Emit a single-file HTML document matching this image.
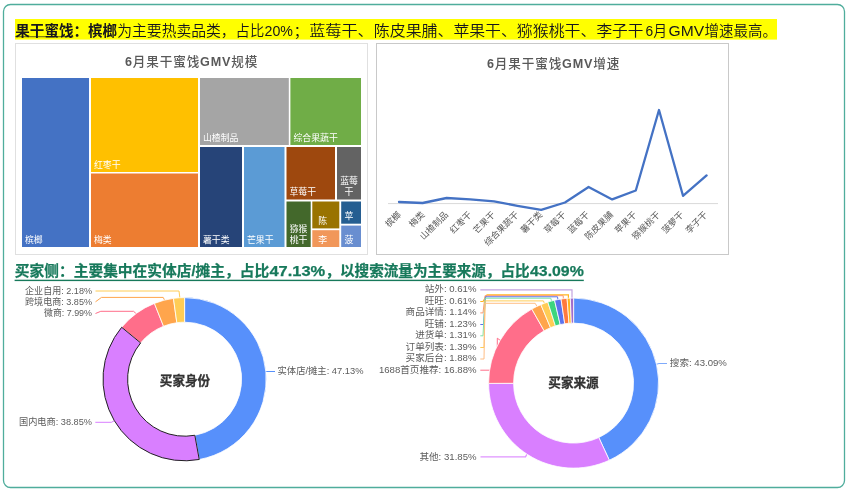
<!DOCTYPE html>
<html lang="zh-CN">
<head>
<meta charset="utf-8">
<title>果干蜜饯</title>
<style>
html,body{margin:0;padding:0;background:#fff;}
body{width:850px;height:494px;overflow:hidden;font-family:"Liberation Sans", "Noto Sans CJK SC", sans-serif;}
svg{display:block;}
text{font-family:"Liberation Sans", "Noto Sans CJK SC", sans-serif;}
</style>
</head>
<body>
<svg width="850" height="494" viewBox="0 0 850 494">

<rect x="3.5" y="4.5" width="841" height="483" rx="7" ry="7" fill="#fff" stroke="#4fad9c" stroke-width="1.3"/>
<rect x="15" y="19" width="762" height="20.6" fill="#ffff00"/>
<text y="36.1" font-size="14.7" fill="#16161e"><tspan x="15.3" textLength="101.8" lengthAdjust="spacingAndGlyphs" font-weight="700">果干蜜饯：槟榔</tspan><tspan x="117.3" textLength="118.3" lengthAdjust="spacingAndGlyphs" font-weight="350">为主要热卖品类，</tspan><tspan x="235.6" textLength="28.6" lengthAdjust="spacingAndGlyphs" font-weight="350">占比</tspan><tspan x="264.6" textLength="28.4" lengthAdjust="spacingAndGlyphs" font-weight="350">20%</tspan><tspan x="293.5" textLength="15.5" lengthAdjust="spacingAndGlyphs" font-weight="350">；</tspan><tspan x="309.2" textLength="64.6" lengthAdjust="spacingAndGlyphs" font-weight="350">蓝莓干、</tspan><tspan x="373.8" textLength="79.6" lengthAdjust="spacingAndGlyphs" font-weight="350">陈皮果脯、</tspan><tspan x="453.4" textLength="63.4" lengthAdjust="spacingAndGlyphs" font-weight="350">苹果干、</tspan><tspan x="516.8" textLength="79.6" lengthAdjust="spacingAndGlyphs" font-weight="350">猕猴桃干、</tspan><tspan x="596.4" textLength="47.0" lengthAdjust="spacingAndGlyphs" font-weight="350">李子干</tspan><tspan x="645.5" textLength="21.5" lengthAdjust="spacingAndGlyphs" font-weight="350">6月</tspan><tspan x="668.6" textLength="35.6" lengthAdjust="spacingAndGlyphs" font-weight="350">GMV</tspan><tspan x="704.6" textLength="72.4" lengthAdjust="spacingAndGlyphs" font-weight="350">增速最高。</tspan></text>
<rect x="15.3" y="36.3" width="58" height="0.9" fill="#16161e" opacity="0.75"/>
<rect x="15.5" y="43.5" width="352" height="211" fill="#fff" stroke="#e0e0e0" stroke-width="1"/>
<rect x="376.5" y="43.5" width="352" height="211" fill="#fff" stroke="#c9c9c9" stroke-width="1"/>
<text x="125" y="66" font-size="12.6" font-weight="500" fill="#595959" textLength="132.4" lengthAdjust="spacing"><tspan font-weight="700">6</tspan>月果干蜜饯<tspan font-weight="700">GMV</tspan>规模</text>
<text x="487" y="68" font-size="12.6" font-weight="500" fill="#595959" textLength="132.4" lengthAdjust="spacing"><tspan font-weight="700">6</tspan>月果干蜜饯<tspan font-weight="700">GMV</tspan>增速</text>
<rect x="22.0" y="78.0" width="67.0" height="169.0" fill="#4472C4"/>
<rect x="91.0" y="78.0" width="107.0" height="94.0" fill="#FFC000"/>
<rect x="91.0" y="173.5" width="107.0" height="73.5" fill="#ED7D31"/>
<rect x="200.0" y="78.0" width="88.8" height="67.0" fill="#A5A5A5"/>
<rect x="290.4" y="78.0" width="70.6" height="67.0" fill="#70AD47"/>
<rect x="200.0" y="147.0" width="42.0" height="100.0" fill="#264478"/>
<rect x="244.0" y="147.0" width="40.5" height="100.0" fill="#5B9BD5"/>
<rect x="286.5" y="147.0" width="48.5" height="52.5" fill="#9E480E"/>
<rect x="337.0" y="147.0" width="24.0" height="52.5" fill="#636363"/>
<rect x="286.5" y="201.5" width="24.2" height="45.5" fill="#43682B"/>
<rect x="312.3" y="201.5" width="27.0" height="26.9" fill="#997300"/>
<rect x="312.3" y="230.2" width="27.0" height="16.8" fill="#F1975A"/>
<rect x="341.2" y="201.5" width="19.8" height="22.2" fill="#255E91"/>
<rect x="341.2" y="225.6" width="19.8" height="21.4" fill="#698ED0"/>
<text x="25.0" y="242.5" font-size="8.9" fill="#fff">槟榔</text>
<text x="94.0" y="167.5" font-size="8.9" fill="#fff">红枣干</text>
<text x="94.0" y="242.5" font-size="8.9" fill="#fff">梅类</text>
<text x="203.0" y="140.5" font-size="8.9" fill="#fff">山楂制品</text>
<text x="293.4" y="140.5" font-size="8.9" fill="#fff">综合果蔬干</text>
<text x="203.0" y="242.5" font-size="8.9" fill="#fff">薯干类</text>
<text x="247.0" y="242.5" font-size="8.9" fill="#fff">芒果干</text>
<text x="289.5" y="195.0" font-size="8.9" fill="#fff">草莓干</text>
<text x="349.0" y="184.0" font-size="8.9" fill="#fff" text-anchor="middle">蓝莓</text>
<text x="349.0" y="195.0" font-size="8.9" fill="#fff" text-anchor="middle">干</text>
<text x="298.6" y="231.5" font-size="8.9" fill="#fff" text-anchor="middle">猕猴</text>
<text x="298.6" y="242.5" font-size="8.9" fill="#fff" text-anchor="middle">桃干</text>
<text x="322.6" y="223.9" font-size="8.9" fill="#fff" text-anchor="middle">陈</text>
<text x="322.6" y="242.5" font-size="8.9" fill="#fff" text-anchor="middle">李</text>
<text x="348.9" y="219.2" font-size="8.9" fill="#fff" text-anchor="middle">苹</text>
<text x="348.9" y="242.5" font-size="8.9" fill="#fff" text-anchor="middle">菠</text>
<line x1="388" y1="203.6" x2="718" y2="203.6" stroke="#d9d9d9" stroke-width="1"/>
<polyline fill="none" stroke="#4472C4" stroke-width="2.3" stroke-linejoin="round" stroke-linecap="round" points="399.0,202.0 422.6,203.0 446.6,198.0 470.2,199.4 494.0,201.4 517.4,205.8 541.2,209.9 565.0,202.5 588.6,187.0 612.2,199.4 635.8,190.5 659.0,110.0 683.0,195.8 706.6,175.4"/>
<text transform="translate(401.6,215.2) rotate(-45)" font-size="8.9" fill="#595959" text-anchor="end">槟榔</text>
<text transform="translate(425.2,215.2) rotate(-45)" font-size="8.9" fill="#595959" text-anchor="end">梅类</text>
<text transform="translate(448.7,215.2) rotate(-45)" font-size="8.9" fill="#595959" text-anchor="end">山楂制品</text>
<text transform="translate(472.3,215.2) rotate(-45)" font-size="8.9" fill="#595959" text-anchor="end">红枣干</text>
<text transform="translate(495.9,215.2) rotate(-45)" font-size="8.9" fill="#595959" text-anchor="end">芒果干</text>
<text transform="translate(519.4,215.2) rotate(-45)" font-size="8.9" fill="#595959" text-anchor="end">综合果蔬干</text>
<text transform="translate(543.0,215.2) rotate(-45)" font-size="8.9" fill="#595959" text-anchor="end">薯干类</text>
<text transform="translate(566.6,215.2) rotate(-45)" font-size="8.9" fill="#595959" text-anchor="end">草莓干</text>
<text transform="translate(590.1,215.2) rotate(-45)" font-size="8.9" fill="#595959" text-anchor="end">蓝莓干</text>
<text transform="translate(613.7,215.2) rotate(-45)" font-size="8.9" fill="#595959" text-anchor="end">陈皮果脯</text>
<text transform="translate(637.3,215.2) rotate(-45)" font-size="8.9" fill="#595959" text-anchor="end">苹果干</text>
<text transform="translate(660.9,215.2) rotate(-45)" font-size="8.9" fill="#595959" text-anchor="end">猕猴桃干</text>
<text transform="translate(684.4,215.2) rotate(-45)" font-size="8.9" fill="#595959" text-anchor="end">菠萝干</text>
<text transform="translate(708.0,215.2) rotate(-45)" font-size="8.9" fill="#595959" text-anchor="end">李子干</text>
<text y="276.2" font-size="14.6" font-weight="700" fill="#17795b" stroke="#17795b" stroke-width="0.25"><tspan x="14.8" textLength="254.4" lengthAdjust="spacingAndGlyphs">买家侧：主要集中在实体店/摊主，占比</tspan><tspan x="269.4" textLength="55.8" lengthAdjust="spacingAndGlyphs">47.13%</tspan><tspan x="325.4" textLength="204.3" lengthAdjust="spacingAndGlyphs">，以搜索流量为主要来源，占比</tspan><tspan x="530.0" textLength="53.8" lengthAdjust="spacingAndGlyphs">43.09%</tspan></text>
<rect x="14.6" y="279.7" width="569.2" height="1.4" fill="#17795b"/>
<polyline fill="none" stroke="#FFCC55" stroke-width="1" points="95.5,291.0 179.0,291.0 180.0,299.0"/>
<polyline fill="none" stroke="#FFA54C" stroke-width="1" points="95.5,301.8 101.5,297.4 163.2,297.4 165.0,301.0"/>
<polyline fill="none" stroke="#FF6E8A" stroke-width="1" points="95.5,313.5 100.8,311.3 133.6,311.3 137.5,315.0"/>
<polyline fill="none" stroke="#D97FFF" stroke-width="1" points="95.3,422.3 111.4,422.3 114.5,420.6"/>
<polyline fill="none" stroke="#5790FB" stroke-width="1" points="265.0,371.5 275.0,371.5"/>
<path d="M184.60,297.60 A81.60,81.60 0 0 1 199.24,459.48 L194.82,435.28 A57.00,57.00 0 0 0 184.60,322.20 Z" fill="#5790FB" stroke="#fff" stroke-width="0.8" stroke-linejoin="round"/>
<path d="M121.66,327.27 A81.60,81.60 0 0 1 154.42,303.39 L163.52,326.24 A57.00,57.00 0 0 0 140.64,342.92 Z" fill="#FF6E8A" stroke="#fff" stroke-width="0.8" stroke-linejoin="round"/>
<path d="M154.42,303.39 A81.60,81.60 0 0 1 173.46,298.36 L176.82,322.73 A57.00,57.00 0 0 0 163.52,326.24 Z" fill="#FFA54C" stroke="#fff" stroke-width="0.8" stroke-linejoin="round"/>
<path d="M173.46,298.36 A81.60,81.60 0 0 1 184.60,297.60 L184.60,322.20 A57.00,57.00 0 0 0 176.82,322.73 Z" fill="#FFCC55" stroke="#fff" stroke-width="0.8" stroke-linejoin="round"/>
<path d="M199.24,459.48 A81.60,81.60 0 0 1 121.66,327.27 L140.64,342.92 A57.00,57.00 0 0 0 194.82,435.28 Z" fill="#D97FFF" stroke="#222" stroke-width="1" stroke-linejoin="round"/>
<text x="185" y="384.5" font-size="12.6" font-weight="700" fill="#333" stroke="#333" stroke-width="0.3" text-anchor="middle">买家身份</text>
<text x="92.0" y="294.3" font-size="9.6" fill="#5c5c5c" text-anchor="end" textLength="67.0" lengthAdjust="spacingAndGlyphs">企业自用: 2.18%</text>
<text x="92.0" y="305.3" font-size="9.6" fill="#5c5c5c" text-anchor="end" textLength="67.0" lengthAdjust="spacingAndGlyphs">跨境电商: 3.85%</text>
<text x="92.0" y="316.3" font-size="9.6" fill="#5c5c5c" text-anchor="end" textLength="48.0" lengthAdjust="spacingAndGlyphs">微商: 7.99%</text>
<text x="92.0" y="425.0" font-size="9.6" fill="#5c5c5c" text-anchor="end" textLength="73.0" lengthAdjust="spacingAndGlyphs">国内电商: 38.85%</text>
<text x="277.5" y="373.6" font-size="9.6" fill="#5c5c5c" text-anchor="start" textLength="86.0" lengthAdjust="spacingAndGlyphs">实体店/摊主: 47.13%</text>
<polyline fill="none" stroke="#C4A3E0" stroke-width="1.2" points="480.3,289.9 572.0,289.9 572.0,299.0"/>
<polyline fill="none" stroke="#FFB51F" stroke-width="1.2" points="480.3,301.5 483.0,301.5 487.0,294.8 568.4,294.8 568.4,299.0"/>
<polyline fill="none" stroke="#FF9A70" stroke-width="1" points="480.3,312.9 483.0,312.9 485.0,295.7 563.2,295.7 563.4,299.5"/>
<polyline fill="none" stroke="#5B73EE" stroke-width="1" points="480.3,324.5 483.5,324.5 485.5,296.8 557.5,296.8 558.0,300.0"/>
<polyline fill="none" stroke="#7FE3A8" stroke-width="1" points="480.3,335.8 483.0,335.8 485.0,298.2 550.8,298.2 551.5,301.0"/>
<polyline fill="none" stroke="#FFCC55" stroke-width="1" points="480.3,347.5 484.0,347.5 485.0,300.9 543.4,300.9 544.5,303.5"/>
<polyline fill="none" stroke="#FFBE85" stroke-width="1" points="480.3,359.0 484.0,359.0 485.0,303.3 535.2,303.3 537.0,306.5"/>
<polyline fill="none" stroke="#FF6E8A" stroke-width="1" points="480.3,370.2 497.3,370.2 497.3,338.2 500.0,340.2"/>
<polyline fill="none" stroke="#DF94FF" stroke-width="1.3" points="480.5,456.8 525.5,456.8 527.6,453.0"/>
<polyline fill="none" stroke="#7FAAFB" stroke-width="1" points="656.0,364.4 659.0,363.5 667.0,363.5"/>
<path d="M573.60,298.10 A85.00,85.00 0 0 1 609.33,460.22 L598.82,437.54 A60.00,60.00 0 0 0 573.60,323.10 Z" fill="#5790FB" stroke="#fff" stroke-width="0.8" stroke-linejoin="round"/>
<path d="M609.33,460.22 A85.00,85.00 0 0 1 488.60,383.38 L513.60,383.30 A60.00,60.00 0 0 0 598.82,437.54 Z" fill="#D97FFF" stroke="#fff" stroke-width="0.8" stroke-linejoin="round"/>
<path d="M488.60,383.38 A85.00,85.00 0 0 1 531.85,309.06 L544.13,330.83 A60.00,60.00 0 0 0 513.60,383.30 Z" fill="#FF6E8A" stroke="#fff" stroke-width="0.8" stroke-linejoin="round"/>
<path d="M531.85,309.06 A85.00,85.00 0 0 1 540.87,304.65 L550.50,327.73 A60.00,60.00 0 0 0 544.13,330.83 Z" fill="#FFA54C" stroke="#fff" stroke-width="0.8" stroke-linejoin="round"/>
<path d="M540.87,304.65 A85.00,85.00 0 0 1 547.84,302.10 L555.42,325.92 A60.00,60.00 0 0 0 550.50,327.73 Z" fill="#FFCC55" stroke="#fff" stroke-width="0.8" stroke-linejoin="round"/>
<path d="M547.84,302.10 A85.00,85.00 0 0 1 554.59,300.25 L560.18,324.62 A60.00,60.00 0 0 0 555.42,325.92 Z" fill="#3DD57F" stroke="#fff" stroke-width="0.8" stroke-linejoin="round"/>
<path d="M554.59,300.25 A85.00,85.00 0 0 1 561.04,299.03 L564.73,323.76 A60.00,60.00 0 0 0 560.18,324.62 Z" fill="#5B73EE" stroke="#fff" stroke-width="0.8" stroke-linejoin="round"/>
<path d="M561.04,299.03 A85.00,85.00 0 0 1 567.09,298.35 L569.00,323.28 A60.00,60.00 0 0 0 564.73,323.76 Z" fill="#FF7A3D" stroke="#fff" stroke-width="0.8" stroke-linejoin="round"/>
<path d="M567.09,298.35 A85.00,85.00 0 0 1 570.34,298.16 L571.30,323.14 A60.00,60.00 0 0 0 569.00,323.28 Z" fill="#FFB51F" stroke="#fff" stroke-width="0.8" stroke-linejoin="round"/>
<path d="M570.34,298.16 A85.00,85.00 0 0 1 573.60,298.10 L573.60,323.10 A60.00,60.00 0 0 0 571.30,323.14 Z" fill="#A16CCB" stroke="#fff" stroke-width="0.8" stroke-linejoin="round"/>
<text x="573.5" y="387.4" font-size="12.6" font-weight="700" fill="#333" stroke="#333" stroke-width="0.3" text-anchor="middle">买家来源</text>
<text x="476.5" y="292.0" font-size="9.6" fill="#5c5c5c" text-anchor="end">站外: 0.61%</text>
<text x="476.5" y="303.5" font-size="9.6" fill="#5c5c5c" text-anchor="end">旺旺: 0.61%</text>
<text x="476.5" y="315.1" font-size="9.6" fill="#5c5c5c" text-anchor="end">商品详情: 1.14%</text>
<text x="476.5" y="326.6" font-size="9.6" fill="#5c5c5c" text-anchor="end">旺铺: 1.23%</text>
<text x="476.5" y="338.2" font-size="9.6" fill="#5c5c5c" text-anchor="end">进货单: 1.31%</text>
<text x="476.5" y="349.8" font-size="9.6" fill="#5c5c5c" text-anchor="end">订单列表: 1.39%</text>
<text x="476.5" y="361.1" font-size="9.6" fill="#5c5c5c" text-anchor="end">买家后台: 1.88%</text>
<text x="476.5" y="372.8" font-size="9.6" fill="#5c5c5c" text-anchor="end">1688首页推荐: 16.88%</text>
<text x="476.5" y="460.0" font-size="9.6" fill="#5c5c5c" text-anchor="end">其他: 31.85%</text>
<text x="669.8" y="366.3" font-size="9.6" fill="#5c5c5c" text-anchor="start">搜索: 43.09%</text>
</svg>
</body>
</html>
